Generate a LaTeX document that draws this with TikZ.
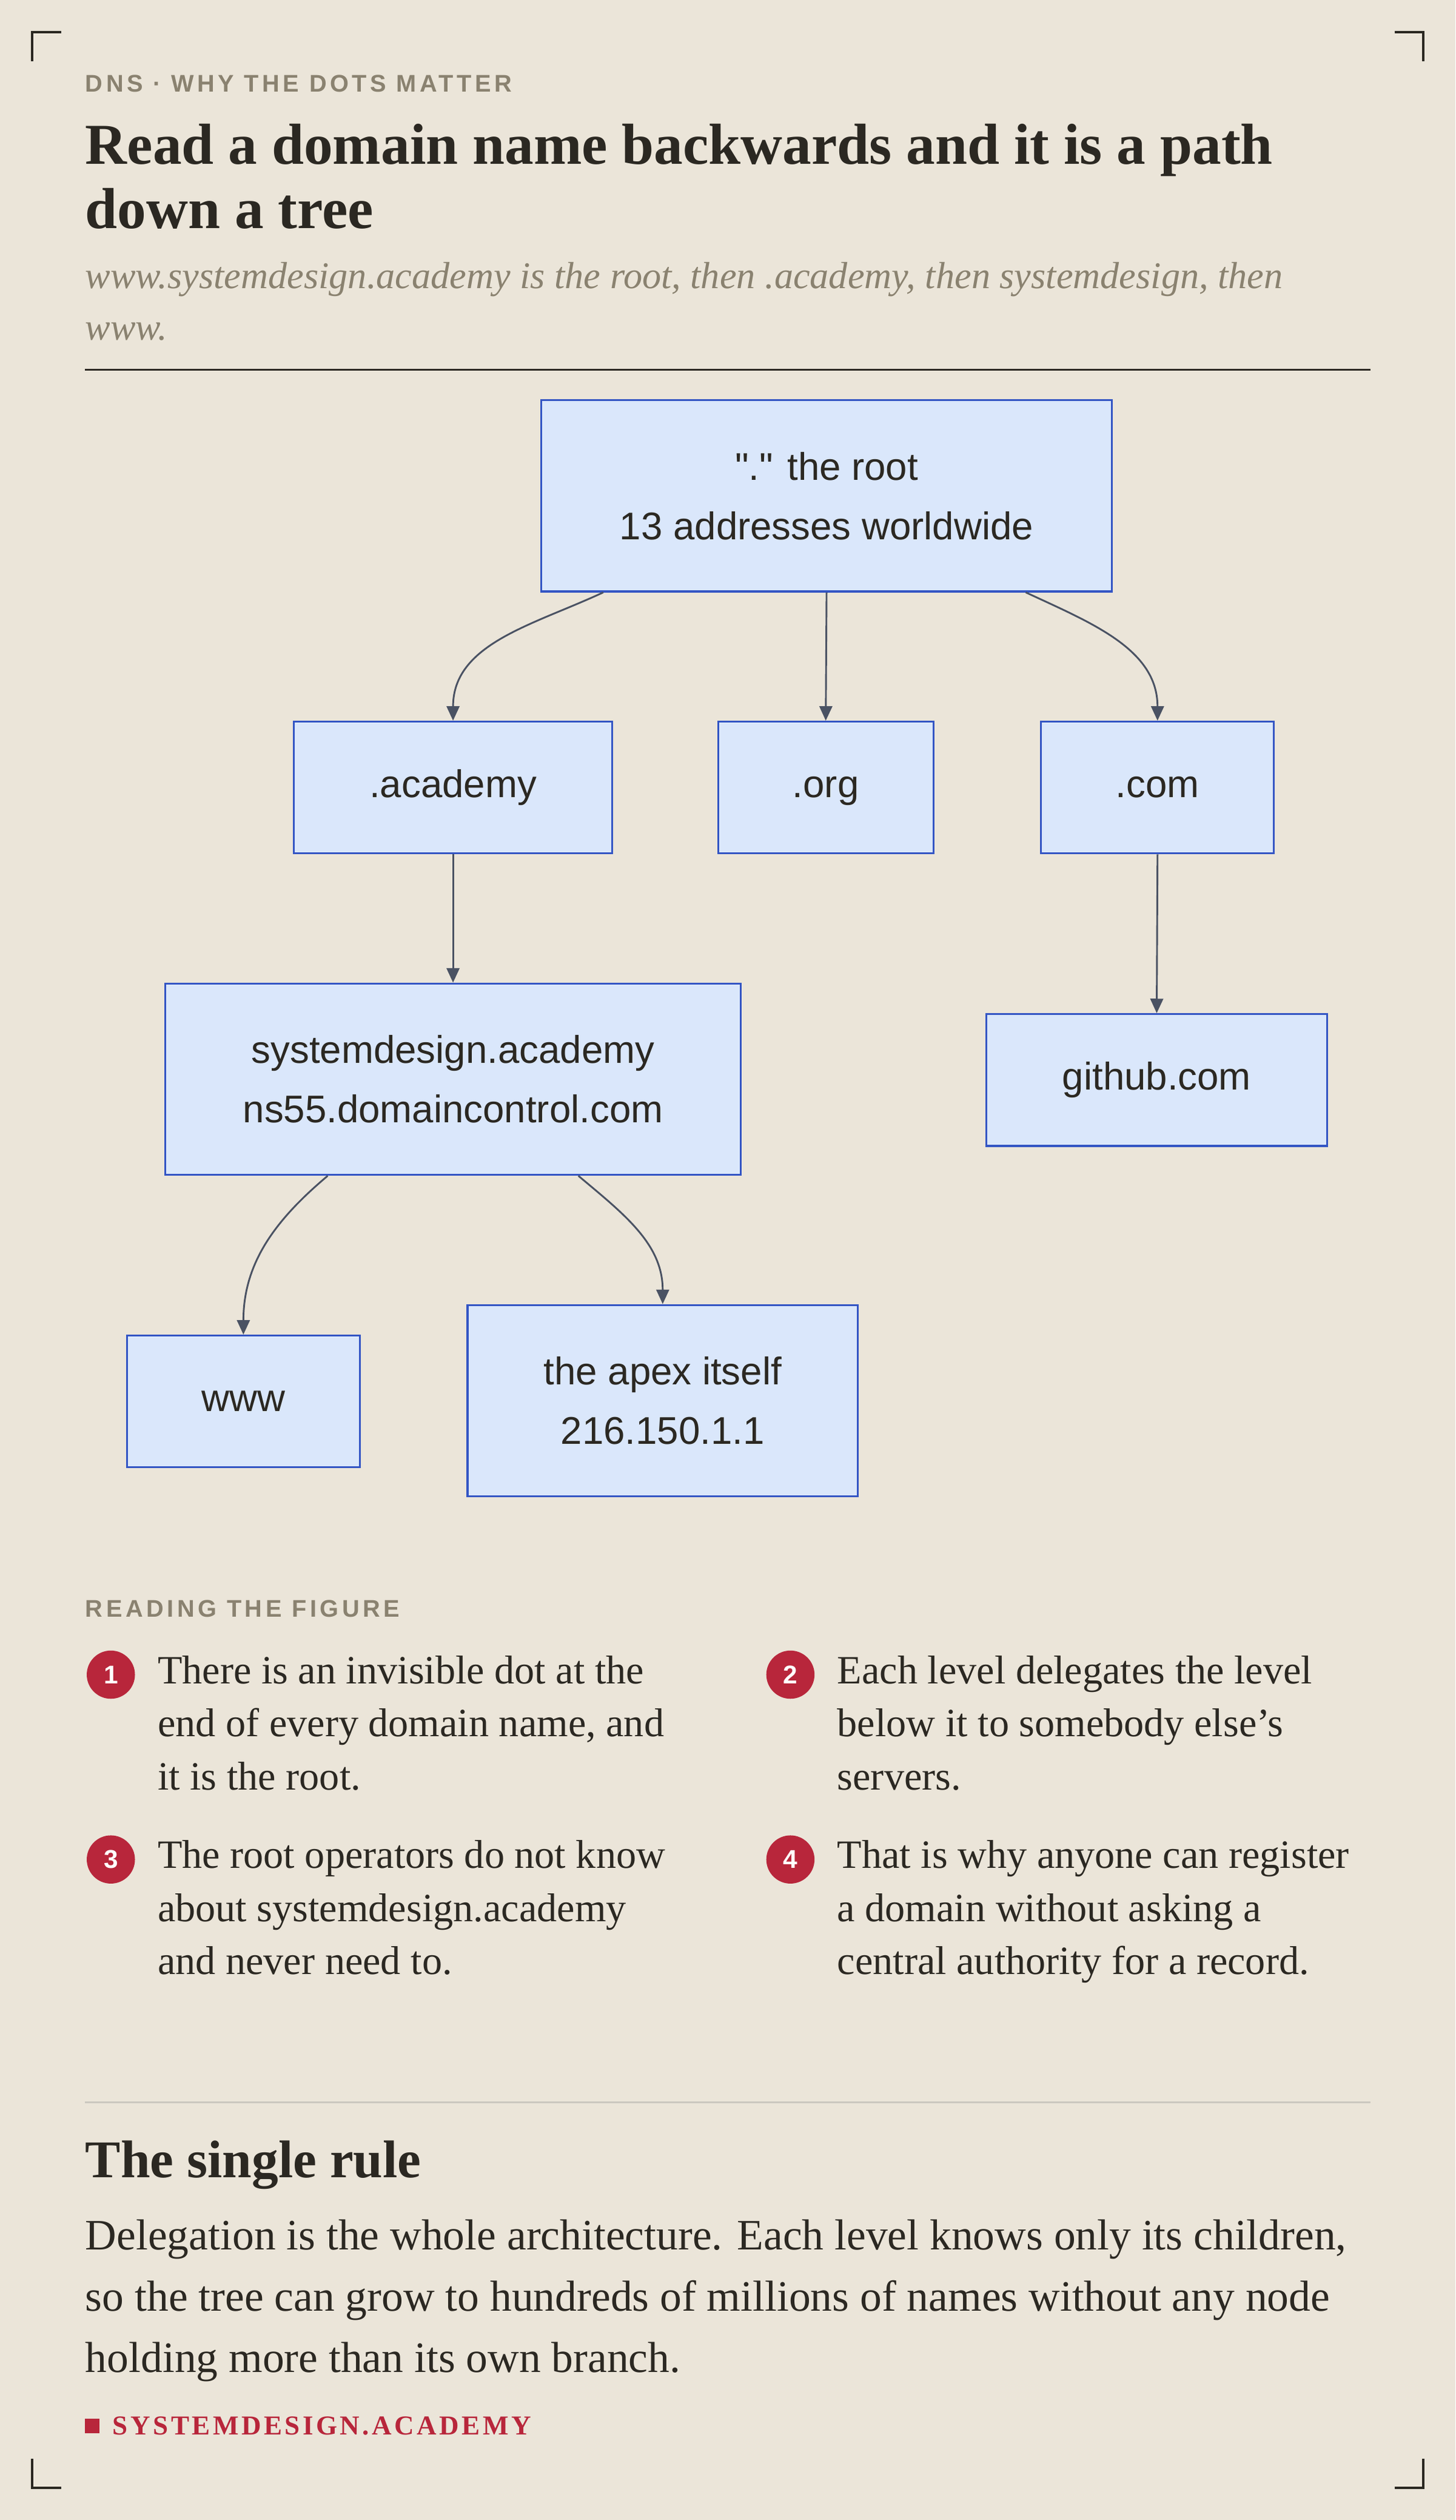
\documentclass[tikz,border=0pt]{standalone}
\usepackage{fontspec}
\setmainfont{Liberation Serif}
\setsansfont{Liberation Sans}
\usetikzlibrary{arrows.meta}
\definecolor{paper}{HTML}{EBE5D9}
\definecolor{ink}{HTML}{2B2822}
\definecolor{muted}{HTML}{8A8270}
\definecolor{boxfill}{HTML}{DAE7FB}
\definecolor{boxline}{HTML}{3355C4}
\definecolor{wire}{HTML}{4A5263}
\definecolor{accent}{HTML}{B8263B}
\begin{document}
\begin{tikzpicture}[x=1pt,y=-1pt,
            zone/.style={rectangle, draw=boxline, fill=boxfill, line width=1.2pt, align=center,
                font=\sffamily\fontsize{24}{37}\selectfont, text=ink},
            link/.style={-{Triangle[length=9pt,width=8pt]}, draw=wire, line width=1.1pt},
            kicker/.style={anchor=west, inner sep=0, text=muted, font=\sffamily\bfseries\fontsize{15}{15}\selectfont},
            badge/.style={circle, fill=accent, text=white, minimum size=30pt, inner sep=0, font=\sffamily\bfseries\fontsize{16}{16}\selectfont},
            note/.style={anchor=north west, inner sep=0, align=left, text=ink, font=\fontsize{25}{33}\selectfont},
            corner/.style={draw=ink, line width=1.5pt}
    ]
        % Page
        \fill[paper] (0,0) rectangle (906,1568);
        \useasboundingbox (0,0) rectangle (906,1568);
        \draw[corner] (20,38) -- (20,20) -- (38,20);
        \draw[corner] (868,20) -- (886,20) -- (886,38);
        \draw[corner] (20,1530) -- (20,1548) -- (38,1548);
        \draw[corner] (868,1548) -- (886,1548) -- (886,1530);

        % Header
        \node[kicker] (kicker) at (53,52) {\addfontfeature{LetterSpace=14}DNS · WHY THE DOTS MATTER};
        \node[anchor=north west, inner sep=0, align=left, text=ink, font=\bfseries\fontsize{36}{40}\selectfont] (title) at (53,77)
            {Read a domain name backwards and it is a path\\down a tree};
        \node[anchor=north west, inner sep=0, align=left, text=muted, font=\itshape\fontsize{23.5}{32}\selectfont] (subtitle) at (53,163)
            {www.systemdesign.academy is the root, then .academy, then systemdesign, then\\www.};
        \draw[ink, line width=1pt] (53,230) -- (853,230);

        % Tree
        \node[zone, minimum width=355pt, minimum height=119pt] (root) at (514.5,308.5) {\textquotedbl.\textquotedbl{} the root\\13 addresses worldwide};
        \node[zone, minimum width=198pt, minimum height=82pt] (tld_academy) at (282,490) {.academy};
        \node[zone, minimum width=134pt, minimum height=82pt] (tld_org) at (514,490) {\vphantom{dy}.org};
        \node[zone, minimum width=145pt, minimum height=82pt] (tld_com) at (720.5,490) {\vphantom{dy}.com};
        \node[zone, minimum width=358pt, minimum height=119pt] (apex_zone) at (282,671.5) {systemdesign.academy\\ns55.domaincontrol.com};
        \node[zone, minimum width=212pt, minimum height=82pt] (github) at (720,672) {\vphantom{y}github.com};
        \node[zone, minimum width=145pt, minimum height=82pt] (www) at (151.5,872) {\vphantom{dy}www};
        \node[zone, minimum width=243pt, minimum height=119pt] (apex) at (412.5,871.5) {the apex itself\\216.150.1.1};

        % Arrows
        \draw[link] ([xshift=-139pt]root.south) to[out=-155,in=90] (tld_academy.north);
        \draw[link] (root.south) -- (tld_org.north);
        \draw[link] ([xshift=124pt]root.south) to[out=-25,in=90] (tld_com.north);
        \draw[link] (tld_academy.south) -- (apex_zone.north);
        \draw[link] (tld_com.south) -- (github.north);
        \draw[link] ([xshift=-78pt]apex_zone.south) to[out=-140,in=90] (www.north);
        \draw[link] ([xshift=78pt]apex_zone.south) to[out=-40,in=90] (apex.north);

        % Reading the figure
        \node[kicker] (reading) at (53,1001) {\addfontfeature{LetterSpace=14}READING THE FIGURE};
        \node[badge] (b1) at (69,1042) {1};
        \node[note] (n1) at (98,1030) {There is an invisible dot at the\\end of every domain name, and\\it is the root.};
        \node[badge] (b2) at (492,1042) {2};
        \node[note] (n2) at (521,1030) {Each level delegates the level\\below it to somebody else's\\servers.};
        \node[badge] (b3) at (69,1157) {3};
        \node[note] (n3) at (98,1145) {The root operators do not know\\about systemdesign.academy\\and never need to.};
        \node[badge] (b4) at (492,1157) {4};
        \node[note] (n4) at (521,1145) {That is why anyone can register\\a domain without asking a\\central authority for a record.};

        % Single rule
        \draw[muted!45, line width=1pt] (53,1308) -- (853,1308);
        \node[anchor=west, inner sep=0, text=ink, font=\bfseries\fontsize{33}{36}\selectfont] (rule) at (53,1347) {The single rule};
        \node[note, font=\fontsize{27}{38}\selectfont] (summary) at (53,1381)
            {Delegation is the whole architecture. Each level knows only its children,\\so the tree can grow to hundreds of millions of names without any node\\holding more than its own branch.};

        % Footer
        \fill[accent] (53,1505) rectangle (62,1514);
        \node[anchor=west, inner sep=0, text=accent, font=\bfseries\fontsize{17}{17}\selectfont] (brand) at (70,1509.5)
            {\addfontfeature{LetterSpace=10}SYSTEMDESIGN.ACADEMY};
    \end{tikzpicture}
\end{document}
